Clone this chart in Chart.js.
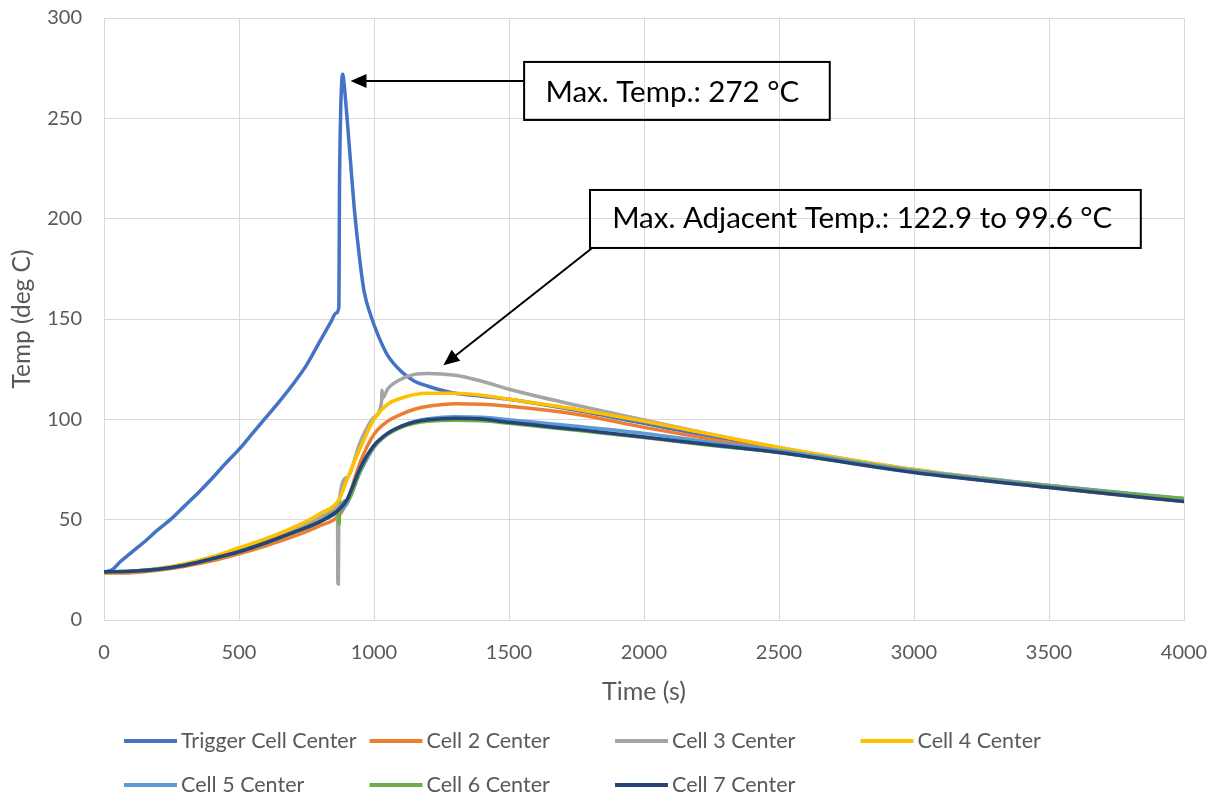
<!DOCTYPE html>
<html>
<head>
<meta charset="utf-8">
<script src="https://cdn.jsdelivr.net/npm/chart.js@4.4.1/dist/chart.umd.min.js"></script>
<style>
html, body { margin: 0; padding: 0; background: #fff; }
#wrap { width: 1211px; height: 796px; position: relative; }
</style>
</head>
<body>
<div id="wrap"><canvas id="myChart"></canvas></div>
<script>
const xTicks = [0, 500, 1000, 1500, 2000, 2500, 3000, 3500, 4000];
const yTicks = [0, 50, 100, 150, 200, 250, 300];

const seriesNames = ['Trigger Cell Center', 'Cell 2 Center', 'Cell 3 Center', 'Cell 4 Center',
    'Cell 5 Center', 'Cell 6 Center', 'Cell 7 Center'];
const seriesColors = ['#4472C4', '#ED7D31', '#A5A5A5', '#FFC000', '#5B9BD5', '#70AD47', '#264478'];

// trigger cell
const triggerTime = [0, 30, 60, 100, 150, 200, 250, 300, 350, 400, 450, 500, 550, 600, 650, 700, 750, 800, 840, 860, 870,
    872, 876, 880, 884, 890, 903, 915, 927, 945, 963, 990, 1015, 1050, 1100, 1150, 1200, 1250, 1300, 1400, 1500,
    1750, 2000, 2250, 2500, 3000, 3500, 4000];
const triggerTemp = [24, 25, 29, 33.5, 39, 45, 50.5, 57, 63.5, 70.5, 78, 85, 93, 101, 109, 117.5, 127, 139, 148.5, 153, 156,
    212, 250, 267, 272, 266, 245.5, 225, 205, 182, 164, 151, 142, 132, 124, 119, 116.5, 114.5, 113, 111.5, 110,
    104.5, 98, 91.5, 85.5, 74.5, 66.5, 59.5];

// common time base for the neighbour cells
const cellTime = [0, 100, 200, 300, 400, 500, 600, 700, 800, 870, 900, 950, 1000, 1050, 1100, 1150, 1200, 1300, 1400, 1500,
    1750, 2000, 2250, 2500, 3000, 3500, 4000];
const cell2Temp = [23.3, 23.6, 24.8, 26.8, 29.5, 33, 37, 41.5, 47, 52, 59, 79, 92.5, 99, 102.5, 105, 106.5, 107.8, 107.5, 106.5,
    102.5, 96, 90, 84.5, 74, 66, 59];
const cell4Temp = [23.5, 24, 25.5, 28, 31.5, 36, 40.5, 46, 53, 60, 70, 86, 100, 107.5, 110.5, 112.3, 113, 113, 112, 110,
    105, 99, 92.5, 86, 75, 67, 60];
const cell5Temp = [24, 24.3, 25.3, 27.3, 30.5, 34, 38.5, 43.5, 49, 54, 58, 74, 86, 92.5, 96.5, 99, 100.3, 101.3, 101, 99.8,
    96.5, 93, 88.5, 84.5, 74.5, 67, 60.5];
const cell7Temp = [24, 24.3, 25.3, 27.3, 30.5, 34, 38.5, 43.5, 49, 55, 60, 76, 87, 93, 96.5, 98.7, 99.8, 100.6, 100.2, 98.5,
    95, 91.2, 87.3, 83.5, 73.5, 66, 59];

// cell 3 has a sensor drop near 866 s and a small kink near 1030 s
const cell3Time = [0, 100, 200, 300, 400, 500, 600, 700, 800, 860, 865, 866, 868, 870, 900, 950, 1000, 1028, 1030, 1032,
    1050, 1100, 1150, 1200, 1300, 1400, 1500, 1750, 2000, 2250, 2500, 3000, 3500, 4000];
const cell3Temp = [24, 24.3, 25.5, 27.8, 31, 35, 39.5, 44.5, 51, 56.5, 57.5, 18, 18, 57.5, 71, 89, 101, 108.6, 114.5, 110.5,
    115, 120, 122.4, 122.9, 122, 119, 115, 107, 99.7, 92.5, 86, 75, 67, 60];

// cell 6 has a small dip at 870 s
const cell6Time = [0, 100, 200, 300, 400, 500, 600, 700, 800, 868, 869, 871, 872, 900, 950, 1000, 1050, 1100, 1150, 1200,
    1300, 1400, 1500, 1750, 2000, 2250, 2500, 3000, 3500, 4000];
const cell6Temp = [24, 24.3, 25.3, 27.3, 30.5, 34, 38.5, 43.5, 49, 54.5, 48, 48, 55, 59.5, 75, 86.5, 92.5, 96, 98, 99,
    99.6, 99.3, 98, 94.5, 91, 87, 83.5, 73.8, 66.5, 60.5];

const seriesTimes = [triggerTime, cellTime, cell3Time, cellTime, cellTime, cell6Time, cellTime];
const seriesTemps = [triggerTemp, cell2Temp, cell3Temp, cell4Temp, cell5Temp, cell6Temp, cell7Temp];

const fontFamily = 'Lato, "Open Sans", sans-serif';
const textColor = '#595959';
const gridColor = '#d9d9d9';

function toPoints(times, temps) {
    return times.map((t, i) => ({ x: t, y: temps[i] }));
}

const datasets = seriesNames.map((name, i) => ({
    label: name,
    data: toPoints(seriesTimes[i], seriesTemps[i]),
    borderColor: seriesColors[i],
    backgroundColor: seriesColors[i],
    borderWidth: 3.5,
    pointRadius: 0,
    cubicInterpolationMode: 'monotone',
    fill: false,
    order: seriesNames.length - i
}));

// annotation boxes and arrows, in data units
const annotations = {
    id: 'annotations',
    afterDatasetsDraw(chart) {
        const c = chart.ctx;
        const xs = chart.scales.x, ys = chart.scales.y;
        const px = v => xs.getPixelForValue(v);
        const py = v => ys.getPixelForValue(v);

        function box(x1, y1, x2, y2, text, tx, ty) {
            c.save();
            c.strokeStyle = '#000';
            c.lineWidth = 2;
            c.strokeRect(px(x1), py(y1), px(x2) - px(x1), py(y2) - py(y1));
            c.fillStyle = '#000';
            c.font = '29.5px ' + fontFamily;
            c.textBaseline = 'middle';
            c.textAlign = 'left';
            c.fillText(text, px(tx), py(ty));
            c.restore();
        }

        function arrow(x1, y1, x2, y2) {
            const ax = px(x1), ay = py(y1), bx = px(x2), by = py(y2);
            const ang = Math.atan2(by - ay, bx - ax);
            const len = 16, half = 7;
            c.save();
            c.strokeStyle = '#000';
            c.fillStyle = '#000';
            c.lineWidth = 2;
            c.beginPath();
            c.moveTo(ax, ay);
            c.lineTo(bx - Math.cos(ang) * len * 0.8, by - Math.sin(ang) * len * 0.8);
            c.stroke();
            c.beginPath();
            c.moveTo(bx, by);
            c.lineTo(bx - Math.cos(ang) * len + Math.sin(ang) * half, by - Math.sin(ang) * len - Math.cos(ang) * half);
            c.lineTo(bx - Math.cos(ang) * len - Math.sin(ang) * half, by - Math.sin(ang) * len + Math.cos(ang) * half);
            c.closePath();
            c.fill();
            c.restore();
        }

        box(1556, 278.1, 2688, 249.2, 'Max. Temp.: 272 \u00B0C', 1635, 263);
        arrow(1556, 268.6, 913, 268.6);
        box(1800, 214.3, 3840, 185.4, 'Max. Adjacent Temp.: 122.9 to 99.6 \u00B0C', 1882, 200);
        arrow(1808, 185.4, 1257, 127);
    }
};

// legend drawn in a fixed grid, 4 per row, left aligned like the original
const gridLegend = {
    id: 'gridLegend',
    afterDraw(chart) {
        const c = chart.ctx;
        c.save();
        c.font = '21.5px ' + fontFamily;
        c.textBaseline = 'middle';
        c.textAlign = 'left';
        seriesNames.forEach((name, i) => {
            const col = i % 4, row = Math.floor(i / 4);
            const x = 124 + col * 245.5;
            const y = 741 + row * 44;
            c.strokeStyle = seriesColors[i];
            c.lineWidth = 4;
            c.beginPath();
            c.moveTo(x, y);
            c.lineTo(x + 53, y);
            c.stroke();
            c.fillStyle = textColor;
            c.fillText(name, x + 57, y);
        });
        c.restore();
    }
};

function noPad(s) {
    s.paddingTop = 0;
    s.paddingBottom = 0;
    s.paddingLeft = 0;
    s.paddingRight = 0;
}

const ctx = document.getElementById('myChart');

new Chart(ctx, {
    type: 'line',
    data: { datasets: datasets },
    options: {
        responsive: true,
        maintainAspectRatio: false,
        animation: false,
        events: [],
        layout: { padding: { left: 0, right: 27, top: 18, bottom: 85 } },
        plugins: {
            legend: { display: false },
            tooltip: { enabled: false }
        },
        scales: {
            x: {
                type: 'linear',
                min: 0,
                max: 4000,
                afterBuildTicks: s => { s.ticks = xTicks.map(v => ({ value: v })); },
                afterFit: s => { s.height = 91; noPad(s); },
                grid: { color: gridColor, drawTicks: false },
                border: { color: gridColor },
                ticks: { color: textColor, padding: 21, maxRotation: 0, font: { family: fontFamily, size: 20 },
                    callback: v => String(v) },
                title: { display: true, text: 'Time (s)', color: textColor, font: { family: fontFamily, size: 25 }, padding: { top: 4, bottom: 4 } }
            },
            y: {
                min: 0,
                max: 300,
                afterBuildTicks: s => { s.ticks = yTicks.map(v => ({ value: v })); },
                afterFit: s => { s.width = 104; noPad(s); },
                grid: { color: gridColor, drawTicks: false },
                border: { color: gridColor },
                ticks: { color: textColor, padding: 22, font: { family: fontFamily, size: 20 },
                    callback: v => String(v) },
                title: { display: true, text: 'Temp (deg C)', color: textColor, font: { family: fontFamily, size: 24.5 }, padding: { top: 7, bottom: 4 } }
            }
        }
    },
    plugins: [annotations, gridLegend]
});
</script>
</body>
</html>
